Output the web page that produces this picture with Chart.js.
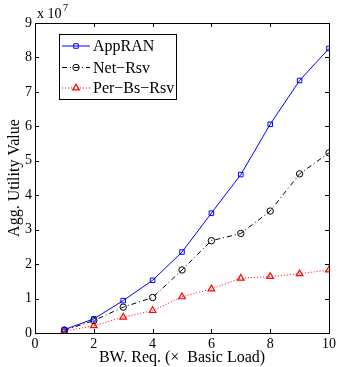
<!DOCTYPE html>
<html>
<head>
<meta charset="utf-8">
<script src="https://cdn.jsdelivr.net/npm/chart.js@4"></script>
<style>
html,body{margin:0;padding:0;background:#fff;}
#wrap{width:339px;height:367px;position:relative;}
</style>
</head>
<body>
<div id="wrap"><canvas id="c" width="339" height="367"></canvas></div>
<script>
const xValues = [1,2,3,4,5,6,7,8,9,10];
const appRAN = [0.10,0.41,0.94,1.53,2.35,3.48,4.60,6.06,7.33,8.26];
const netRsv = [0.08,0.36,0.75,1.03,1.83,2.68,2.89,3.54,4.62,5.23];
const perBsRsv = [0.05,0.21,0.46,0.65,1.05,1.28,1.59,1.64,1.72,1.83];
const xTicks = [0,2,4,6,8,10];
const yTicks = [0,1,2,3,4,5,6,7,8,9];
const seriesNames = ['AppRAN','Net\u2212Rsv','Per\u2212Bs\u2212Rsv'];
const FONT = '"Liberation Serif", "Times New Roman", serif';

const toPts = arr => arr.map((v,i)=>({x:xValues[i], y:v}));

const frame = {
  id:'frame',
  afterDraw(chart){
    const {ctx, chartArea:a, scales} = chart;
    ctx.save();
    ctx.strokeStyle='#000'; ctx.lineWidth=1;
    ctx.strokeRect(Math.round(a.left)+0.5, Math.round(a.top)+0.5, Math.round(a.right-a.left), Math.round(a.bottom-a.top));
    ctx.beginPath();
    const tl=4;
    xTicks.forEach(t=>{
      const x=Math.round(scales.x.getPixelForValue(t))+0.5;
      ctx.moveTo(x,a.bottom); ctx.lineTo(x,a.bottom-tl);
      ctx.moveTo(x,a.top); ctx.lineTo(x,a.top+tl);
    });
    yTicks.forEach(t=>{
      const y=Math.round(scales.y.getPixelForValue(t))+0.5;
      ctx.moveTo(a.left,y); ctx.lineTo(a.left+tl,y);
      ctx.moveTo(a.right,y); ctx.lineTo(a.right-tl,y);
    });
    ctx.stroke();
    // exponent label
    ctx.fillStyle='#000';
    ctx.font='14px '+FONT;
    ctx.textBaseline='alphabetic';
    ctx.textAlign='left';
    ctx.fillText('x 10', a.left+2, a.top-5);
    ctx.font='10px '+FONT;
    ctx.fillText('7', a.left+28, a.top-12);
    // legend
    const lx=59.5, ly=34.5, lw=117, lh=65;
    ctx.fillStyle='#fff';
    ctx.fillRect(lx,ly,lw,lh);
    ctx.strokeStyle='#000';
    ctx.strokeRect(lx,ly,lw,lh);
    const rows=[46,67.5,88];
    chart.data.datasets.forEach((ds,i)=>{
      const y=rows[i];
      ctx.save();
      ctx.strokeStyle=ds.borderColor; ctx.lineWidth=ds.borderWidth;
      ctx.setLineDash(ds.borderDash||[]);
      ctx.beginPath(); ctx.moveTo(62,y); ctx.lineTo(90,y); ctx.stroke();
      ctx.restore();
      ctx.save();
      ctx.fillStyle='rgba(0,0,0,0)';
      ctx.strokeStyle=ds.borderColor; ctx.lineWidth=ds.pointBorderWidth;
      ctx.setLineDash([]);
      Chart.helpers.drawPoint(ctx,{pointStyle:ds.pointStyle, radius:ds.pointRadius, borderWidth:ds.pointBorderWidth, rotation:0},76,y);
      ctx.restore();
      ctx.fillStyle='#000';
      ctx.font='16px '+FONT;
      ctx.textBaseline='middle';
      ctx.fillText(seriesNames[i], 93, y+1);
    });
    ctx.restore();
  }
};

new Chart(document.getElementById('c'), {
  type:'line',
  data:{
    datasets:[
      {label:seriesNames[0], data:toPts(appRAN), borderColor:'#0000ff', backgroundColor:'rgba(0,0,0,0)', borderWidth:1,
       pointStyle:'rect', pointRadius:3.2, pointBorderWidth:1, pointBorderColor:'#0000ff', pointBackgroundColor:'rgba(0,0,0,0)'},
      {label:seriesNames[1], data:toPts(netRsv), borderColor:'#000000', backgroundColor:'rgba(0,0,0,0)', borderWidth:1, borderDash:[5,3,1,3],
       pointStyle:'circle', pointRadius:3.2, pointBorderWidth:1, pointBorderColor:'#000', pointBackgroundColor:'rgba(0,0,0,0)'},
      {label:seriesNames[2], data:toPts(perBsRsv), borderColor:'#ff0000', backgroundColor:'rgba(0,0,0,0)', borderWidth:1, borderDash:[1,2],
       pointStyle:'triangle', pointRadius:3.8, pointBorderWidth:1.2, pointBorderColor:'#ff0000', pointBackgroundColor:'rgba(0,0,0,0)'}
    ]
  },
  options:{
    responsive:false, animation:false,
    layout:{padding:{top:23,right:7,left:0,bottom:0}},
    plugins:{legend:{display:false}, tooltip:{enabled:false}},
    scales:{
      x:{type:'linear', min:0, max:10,
         afterBuildTicks(s){ s.ticks = xTicks.map(v=>({value:v})); },
         afterFit(s){ s.height=34; },
         grid:{display:false, drawTicks:false},
         border:{display:false},
         ticks:{color:'#000', font:{family:FONT,size:14}, padding:3, maxRotation:0, autoSkip:false},
         title:{display:true, text:'BW. Req. (\u00d7  Basic Load)', color:'#000', font:{family:FONT,size:16}, padding:{top:0,bottom:0}}
      },
      y:{type:'linear', min:0, max:9,
         afterBuildTicks(s){ s.ticks = yTicks.map(v=>({value:v})); },
         afterFit(s){ s.width=35; },
         grid:{display:false, drawTicks:false},
         border:{display:false},
         ticks:{color:'#000', font:{family:FONT,size:14}, padding:3, autoSkip:false},
         title:{display:true, text:'Agg. Utility Value', color:'#000', font:{family:FONT,size:16}, padding:{top:5,bottom:0}}
      }
    }
  },
  plugins:[frame]
});
</script>
</body>
</html>
